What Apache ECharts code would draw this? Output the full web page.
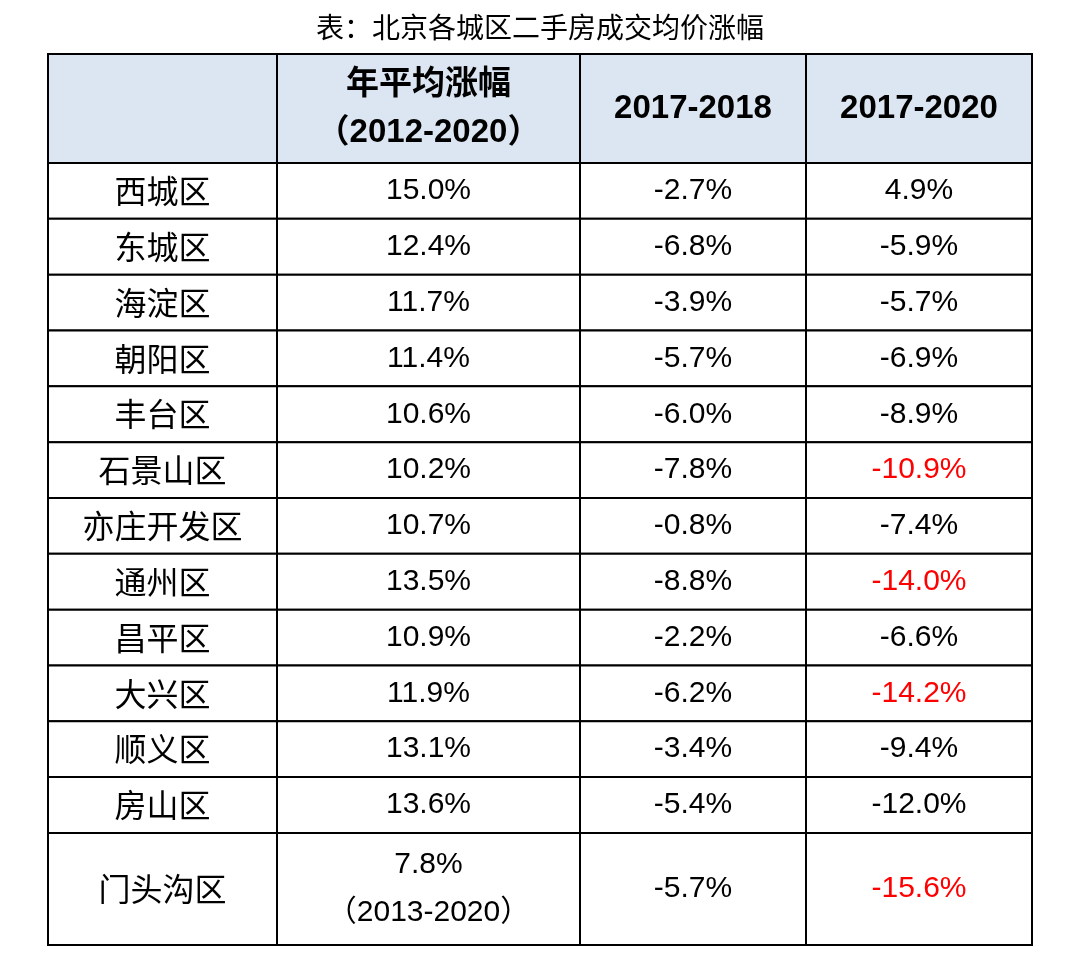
<!DOCTYPE html>
<html><head><meta charset="utf-8">
<script src="https://cdn.jsdelivr.net/npm/echarts@6/dist/echarts.min.js"></script>
<style>html,body{margin:0;background:#fff}#c{width:1080px;height:955px}</style>
</head><body><div id="c"></div>
<script>
const headers = ['', '年平均涨幅\n（2012-2020）', '2017-2018', '2017-2020'];
const districts = ['西城区','东城区','海淀区','朝阳区','丰台区','石景山区','亦庄开发区','通州区','昌平区','大兴区','顺义区','房山区','门头沟区'];
const avgRise = ['15.0%','12.4%','11.7%','11.4%','10.6%','10.2%','10.7%','13.5%','10.9%','11.9%','13.1%','13.6%','7.8%\n（2013-2020）'];
const rise1718 = ['-2.7%','-6.8%','-3.9%','-5.7%','-6.0%','-7.8%','-0.8%','-8.8%','-2.2%','-6.2%','-3.4%','-5.4%','-5.7%'];
const rise1720 = ['4.9%','-5.9%','-5.7%','-6.9%','-8.9%','-10.9%','-7.4%','-14.0%','-6.6%','-14.2%','-9.4%','-12.0%','-15.6%'];
const redIn1720 = ['石景山区','通州区','大兴区','门头沟区'];

// layout (px)
const colW = [229, 303, 226, 226];
const rowH = [109].concat(districts.map((d, i) => i === districts.length - 1 ? 112 : 55.8));
const colX = [0]; colW.forEach(w => colX.push(colX[colX.length - 1] + w));
const rowY = [0]; rowH.forEach(h => rowY.push(rowY[rowY.length - 1] + h));

const cells = [];
headers.forEach((t, c) => cells.push([c, 0, t, 'head']));
districts.forEach((d, r) => {
  const row = [d, avgRise[r], rise1718[r], rise1720[r]];
  row.forEach((t, c) => cells.push([c, r + 1, t, (c === 3 && redIn1720.includes(d)) ? 'red' : 'body']));
});

const chart = echarts.init(document.getElementById('c'));
chart.setOption({
  title: { text: '表：北京各城区二手房成交均价涨幅', left: 'center', top: 8,
    textStyle: { fontFamily: 'Noto Sans CJK SC', fontSize: 28, fontWeight: 'normal', color: '#000' } },
  grid: { left: 48, right: 48, top: 54, bottom: 10 },
  xAxis: { type: 'value', min: 0, max: colX[4], show: false },
  yAxis: { type: 'value', min: 0, max: rowY[rowY.length - 1], inverse: true, show: false },
  series: [{
    type: 'custom',
    data: cells,
    renderItem: (params, api) => {
      const c = api.value(0), r = api.value(1);
      const d = cells[params.dataIndex];
      const p0 = api.coord([colX[c], rowY[r]]);
      const p1 = api.coord([colX[c + 1], rowY[r + 1]]);
      const head = d[3] === 'head';
      const cjk = c === 0;
      return {
        type: 'group',
        children: [
          { type: 'rect', shape: { x: p0[0], y: p0[1], width: p1[0] - p0[0], height: p1[1] - p0[1] },
            style: { fill: head ? '#DCE6F2' : '#fff', stroke: '#000', lineWidth: 2 } },
          { type: 'text', style: {
            text: d[2], x: (p0[0] + p1[0]) / 2, y: (p0[1] + p1[1]) / 2,
            align: 'center', verticalAlign: 'middle',
            fontFamily: cjk ? 'Noto Sans CJK SC' : 'Liberation Sans, Noto Sans CJK SC',
            fontSize: head ? 33 : (cjk ? 32 : 30), fontWeight: head ? 'bold' : 'normal',
            lineHeight: head ? 48 : 48,
            fill: d[3] === 'red' ? '#FF0000' : '#000' } }
        ]
      };
    }
  }]
});
</script></body></html>
